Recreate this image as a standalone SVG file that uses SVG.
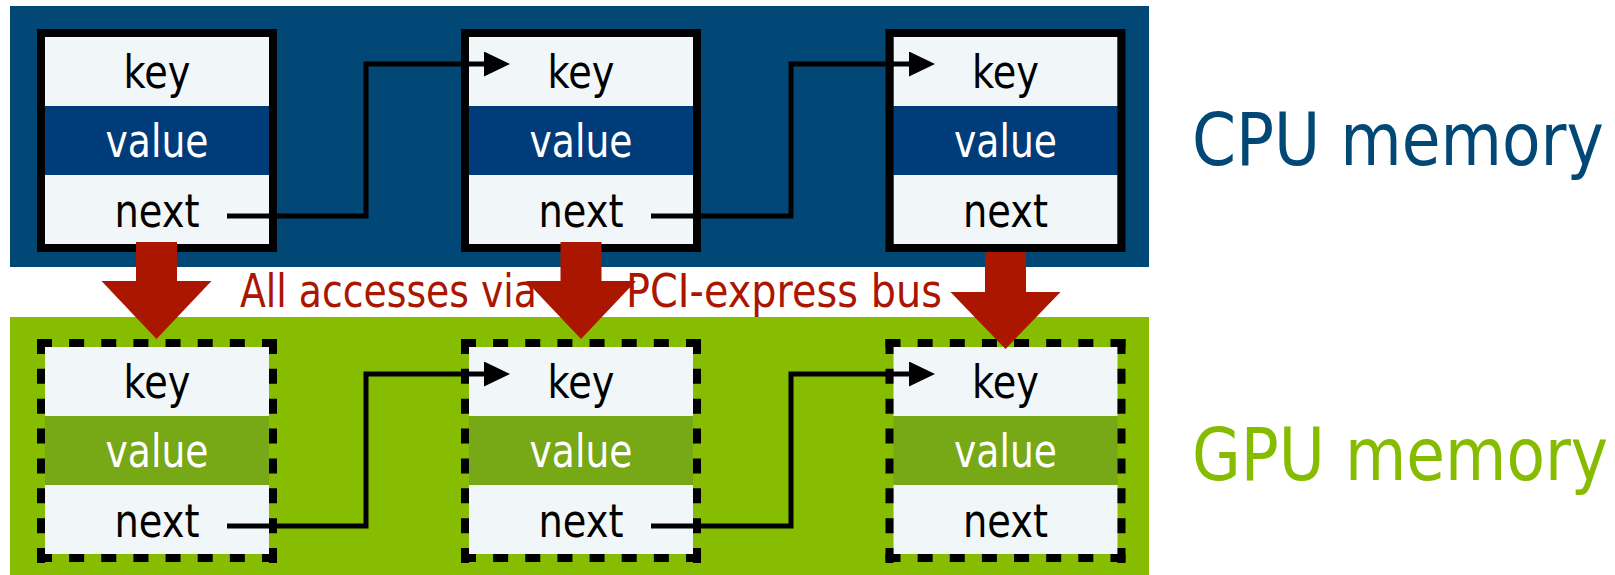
<svg xmlns="http://www.w3.org/2000/svg" width="1615" height="575" viewBox="0 0 1615 575">
  <style>
    .lbl { font-family: "DejaVu Sans", Verdana, sans-serif; font-size: 46px; text-anchor: middle; }
    .dark { fill: #000000; }
    .light { fill: #ffffff; }
    .row { fill: #f1f6f9; }
    .cpuval { fill: #003b7a; }
    .gpuval { fill: #77a815; }
    .solid { fill: none; stroke: #000000; stroke-width: 8; }
    .dashh { fill: none; stroke: #000000; stroke-width: 8; stroke-dasharray: 15 17.14; }
    .dashv { fill: none; stroke: #000000; stroke-width: 8; stroke-dasharray: 15 14.86; }
    .link { fill: none; stroke: #000000; stroke-width: 5; marker-end: url(#head); }
    .bus { fill: #aa1600; }
    .note { font-family: "DejaVu Sans", Verdana, sans-serif; font-size: 46px; fill: #aa1600; }
    .mem { font-family: "DejaVu Sans", Verdana, sans-serif; font-size: 73px; }
  </style>
  <defs>
    <marker id="head" viewBox="0 0 26 25" refX="0" refY="12.5" markerWidth="26" markerHeight="25" markerUnits="userSpaceOnUse" orient="auto">
      <path d="M0,0 L26,12.5 L0,25 Z" fill="#000000"/>
    </marker>
    <!-- one list node: three stacked fields -->
    <g id="fieldsCpu">
      <rect class="row" x="0" y="8" width="224" height="69"/>
      <rect class="cpuval" x="0" y="77" width="224" height="69"/>
      <rect class="row" x="0" y="146" width="224" height="69"/>
    </g>
    <g id="fieldsGpu">
      <rect class="row" x="0" y="8" width="224" height="69"/>
      <rect class="gpuval" x="0" y="77" width="224" height="69"/>
      <rect class="row" x="0" y="146" width="224" height="69"/>
    </g>
  </defs>

  <rect width="1615" height="575" fill="#ffffff"/>

  <!-- memory regions -->
  <rect id="cpu-region" x="10" y="6" width="1139" height="261" fill="#024877"/>
  <rect id="gpu-region" x="10" y="317" width="1139" height="258" fill="#86bd00"/>

  <text class="mem" transform="translate(1192,165) scale(0.864,1)" fill="#024876">CPU memory</text>
  <text class="mem" transform="translate(1192,480) scale(0.863,1)" fill="#86bc00">GPU memory</text>

  <!-- CPU nodes -->
  <g id="cpu-node-1" transform="translate(45,29)">
    <use href="#fieldsCpu"/>
    <rect class="solid" x="-4" y="4" width="232" height="215"/>
    <text class="lbl dark" x="112" y="59" textLength="67" lengthAdjust="spacingAndGlyphs">key</text>
    <text class="lbl light" x="112" y="128" textLength="103" lengthAdjust="spacingAndGlyphs">value</text>
    <text class="lbl dark" x="112" y="198" textLength="85" lengthAdjust="spacingAndGlyphs">next</text>
  </g>
  <g id="cpu-node-2" transform="translate(469,29)">
    <use href="#fieldsCpu"/>
    <rect class="solid" x="-4" y="4" width="232" height="215"/>
    <text class="lbl dark" x="112" y="59" textLength="67" lengthAdjust="spacingAndGlyphs">key</text>
    <text class="lbl light" x="112" y="128" textLength="103" lengthAdjust="spacingAndGlyphs">value</text>
    <text class="lbl dark" x="112" y="198" textLength="85" lengthAdjust="spacingAndGlyphs">next</text>
  </g>
  <g id="cpu-node-3" transform="translate(893.5,29)">
    <use href="#fieldsCpu"/>
    <rect class="solid" x="-4" y="4" width="232" height="215"/>
    <text class="lbl dark" x="112" y="59" textLength="67" lengthAdjust="spacingAndGlyphs">key</text>
    <text class="lbl light" x="112" y="128" textLength="103" lengthAdjust="spacingAndGlyphs">value</text>
    <text class="lbl dark" x="112" y="198" textLength="85" lengthAdjust="spacingAndGlyphs">next</text>
  </g>

  <!-- GPU nodes (dashed outlines) -->
  <g id="gpu-node-1" transform="translate(45,339)">
    <use href="#fieldsGpu"/>
    <path class="dashh" d="M-8,4 H232 M-8,219 H232"/>
    <path class="dashv" d="M-4,0 V224 M228,0 V224"/>
    <text class="lbl dark" x="112" y="59" textLength="67" lengthAdjust="spacingAndGlyphs">key</text>
    <text class="lbl light" x="112" y="128" textLength="103" lengthAdjust="spacingAndGlyphs">value</text>
    <text class="lbl dark" x="112" y="198" textLength="85" lengthAdjust="spacingAndGlyphs">next</text>
  </g>
  <g id="gpu-node-2" transform="translate(469,339)">
    <use href="#fieldsGpu"/>
    <path class="dashh" d="M-8,4 H232 M-8,219 H232"/>
    <path class="dashv" d="M-4,0 V224 M228,0 V224"/>
    <text class="lbl dark" x="112" y="59" textLength="67" lengthAdjust="spacingAndGlyphs">key</text>
    <text class="lbl light" x="112" y="128" textLength="103" lengthAdjust="spacingAndGlyphs">value</text>
    <text class="lbl dark" x="112" y="198" textLength="85" lengthAdjust="spacingAndGlyphs">next</text>
  </g>
  <g id="gpu-node-3" transform="translate(893.5,339)">
    <use href="#fieldsGpu"/>
    <path class="dashh" d="M-8,4 H232 M-8,219 H232"/>
    <path class="dashv" d="M-4,0 V224 M228,0 V224"/>
    <text class="lbl dark" x="112" y="59" textLength="67" lengthAdjust="spacingAndGlyphs">key</text>
    <text class="lbl light" x="112" y="128" textLength="103" lengthAdjust="spacingAndGlyphs">value</text>
    <text class="lbl dark" x="112" y="198" textLength="85" lengthAdjust="spacingAndGlyphs">next</text>
  </g>

  <!-- bus caption -->
  <text class="note" x="240" y="307" textLength="297" lengthAdjust="spacingAndGlyphs">All accesses via</text>
  <text class="note" x="626" y="307" textLength="316" lengthAdjust="spacingAndGlyphs">PCI-express bus</text>

  <g id="connectors">
    <!-- next pointers -->
    <path class="link" d="M227,216 H366 V64 H484"/>
    <path class="link" d="M651,216 H791 V64 H909"/>
    <path class="link" d="M227,526 H366 V374 H484"/>
    <path class="link" d="M651,526 H791 V374 H909"/>
    <!-- CPU to GPU transfers -->
    <polygon class="bus" points="136,242 177,242 177,281 211.5,281 156.5,339 101.5,281 136,281"/>
    <polygon class="bus" points="560.5,242 601.5,242 601.5,281 636,281 581,339 526,281 560.5,281"/>
    <polygon class="bus" points="985,252 1026,252 1026,292 1060.5,292 1005.5,349 950.5,292 985,292"/>
  </g>
</svg>
